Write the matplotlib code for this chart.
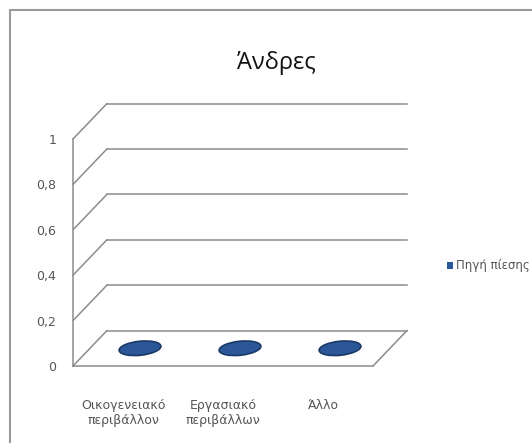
import matplotlib
matplotlib.use('Agg')
import matplotlib.pyplot as plt
from matplotlib.patches import Ellipse, Rectangle, Patch, ConnectionPatch
from matplotlib.transforms import ScaledTranslation

# --- data ---
title = 'Άνδρες'
categories = ['Οικογενειακό\nπεριβάλλον', 'Εργασιακό\nπεριβάλλων', 'Άλλο']
values = [0, 0, 0]
series_name = 'Πηγή πίεσης'
y_ticks = [0, 0.2, 0.4, 0.6, 0.8, 1]
y_tick_labels = ['0', '0,2', '0,4', '0,6', '0,8', '1']

plt.rcParams['font.family'] = ['Liberation Sans Narrow', 'DejaVu Sans']

bar_color = '#2b5799'
bar_edge = '#1a3966'
grid_color = '#8c8c8c'
text_color = '#555555'

fig = plt.figure(figsize=(5.32, 4.43), dpi=100)
ax = fig.add_axes([73 / 532, 77 / 443, 300 / 532, 227 / 443])
x0, x1 = -0.5, len(categories) - 0.5
ax.set_xlim(x0, x1)
ax.set_ylim(0, 1)
for s in ax.spines.values():
    s.set_visible(False)
ax.patch.set_alpha(0)

# fake 3D depth: back wall is shifted right and up
depth = ScaledTranslation(0.34, 0.355, fig.dpi_scale_trans)
half = ScaledTranslation(0.17, 0.1775, fig.dpi_scale_trans)
back = ax.transData + depth

line_kw = dict(color=grid_color, lw=1.1, clip_on=False)

# back wall gridlines (0 is the back edge of the floor)
for y in y_ticks:
    ax.plot([x0, x1], [y, y], transform=back, **line_kw)
    # side wall diagonals
    ax.add_artist(ConnectionPatch((x0, y), (x0, y), coordsA=ax.transData,
                                  coordsB=back, **line_kw))

# front value axis and floor
ax.plot([x0, x0], [0, 1], **line_kw)
ax.plot([x0, x1], [0, 0], **line_kw)
ax.add_artist(ConnectionPatch((x1, 0), (x1, 0), coordsA=ax.transData,
                              coordsB=back, **line_kw))

# columns of height 0 show as flat discs
for i, v in enumerate(values):
    tr = fig.dpi_scale_trans + ScaledTranslation(i, v, ax.transData) + half
    e = Ellipse((0, 0), 0.42, 0.14, angle=6, transform=tr,
                facecolor=bar_color, edgecolor=bar_edge, lw=1.2, clip_on=False)
    ax.add_artist(e)

ax.set_yticks(y_ticks, y_tick_labels)
ax.set_xticks(range(len(categories)), categories)
ax.tick_params(axis='y', length=0, pad=12, labelsize=9, labelcolor=text_color)
ax.tick_params(axis='x', length=0, pad=24, labelsize=9, labelcolor=text_color)

fig.text(276 / 532, 1 - 63 / 443, title, ha='center', va='center',
         fontsize=17, family=['Open Sans', 'DejaVu Sans'], color='#111111')

fig.legend(handles=[Patch(facecolor=bar_color)], labels=[series_name],
           loc='center left', bbox_to_anchor=(436 / 532, 1 - 266 / 443),
           frameon=False, fontsize=8.5, handlelength=0.5, handleheight=0.5,
           handletextpad=0.3, labelcolor=text_color)

# chart area border
fig.add_artist(Rectangle((10 / 532, -0.1), 1.2, 1.1 - 10 / 443, fill=False,
                         transform=fig.transFigure, edgecolor='#9a9a9a', lw=1.5))

fig.savefig('out.png', dpi=100, facecolor='white')
